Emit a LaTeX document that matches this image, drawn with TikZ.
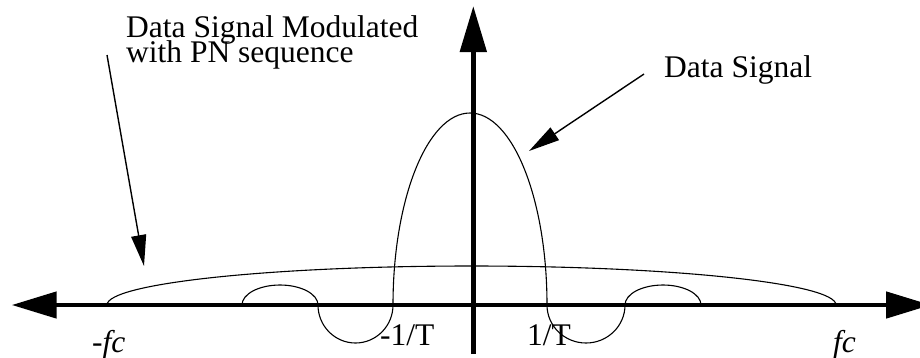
\documentclass[tikz,border=0pt]{standalone}
\usepackage{fontspec}
\setmainfont{Liberation Serif}
\usetikzlibrary{arrows.meta}
\begin{document}
\begin{tikzpicture}[x=1pt,y=-1pt,
  axisline/.style={line width=4.7pt,{Triangle[length=45pt,width=26pt]}-{Triangle[length=45pt,width=26pt]}},
  vaxis/.style={line width=5pt,-{Triangle[length=46pt,width=26pt]}},
  curve/.style={line width=1.1pt},
  callout/.style={line width=1.4pt,-{Triangle[length=31pt,width=15pt]}},
  lbl/.style={inner sep=0pt,anchor=base west,font=\fontsize{31.5}{25}\selectfont}]
\useasboundingbox (0,0) rectangle (920,357);
\fill[white] (0,0) rectangle (920,357);
\clip (0,0) rectangle (920,357);
% axes
\coordinate (xl) at (11.7,305);
\coordinate (xr) at (931,305);
\coordinate (yb) at (473.3,354);
\coordinate (yt) at (473.3,6);
\draw[axisline] (xl) -- (xr);
\draw[vaxis] (yb) -- (yt);
% spread spectrum
\draw[curve] (107,305) arc[start angle=180,end angle=360,x radius=364.5,y radius=39];
% data signal sinc-like
\draw[curve] (242,305)
  arc[start angle=180,end angle=360,x radius=38,y radius=20]
  arc[start angle=180,end angle=0,x radius=37.5,y radius=38]
  arc[start angle=180,end angle=360,x radius=77,y radius=192]
  arc[start angle=180,end angle=0,x radius=39,y radius=38]
  arc[start angle=180,end angle=360,x radius=38,y radius=20];
% labels
\node[lbl] (mod1) at (126,37) {Data Signal Modulated};
\node[lbl] (mod2) at (126,62) {with PN sequence};
\node[lbl] (ds) at (664,77) {Data Signal};
\node[lbl] (mfc) at (92,352) {-\textit{fc}};
\node[lbl] (mT) at (380,345) {-1/T};
\node[lbl] (pT) at (527,345) {1/T};
\node[lbl] (pfc) at (833,352) {\textit{fc}};
% callouts
\coordinate (modtail) at (107,55);
\coordinate (modtip) at (144,266);
\coordinate (dstail) at (644,74);
\coordinate (dstip) at (529,151);
\draw[callout] (modtail) -- (modtip);
\draw[callout] (dstail) -- (dstip);
\end{tikzpicture}
\end{document}
